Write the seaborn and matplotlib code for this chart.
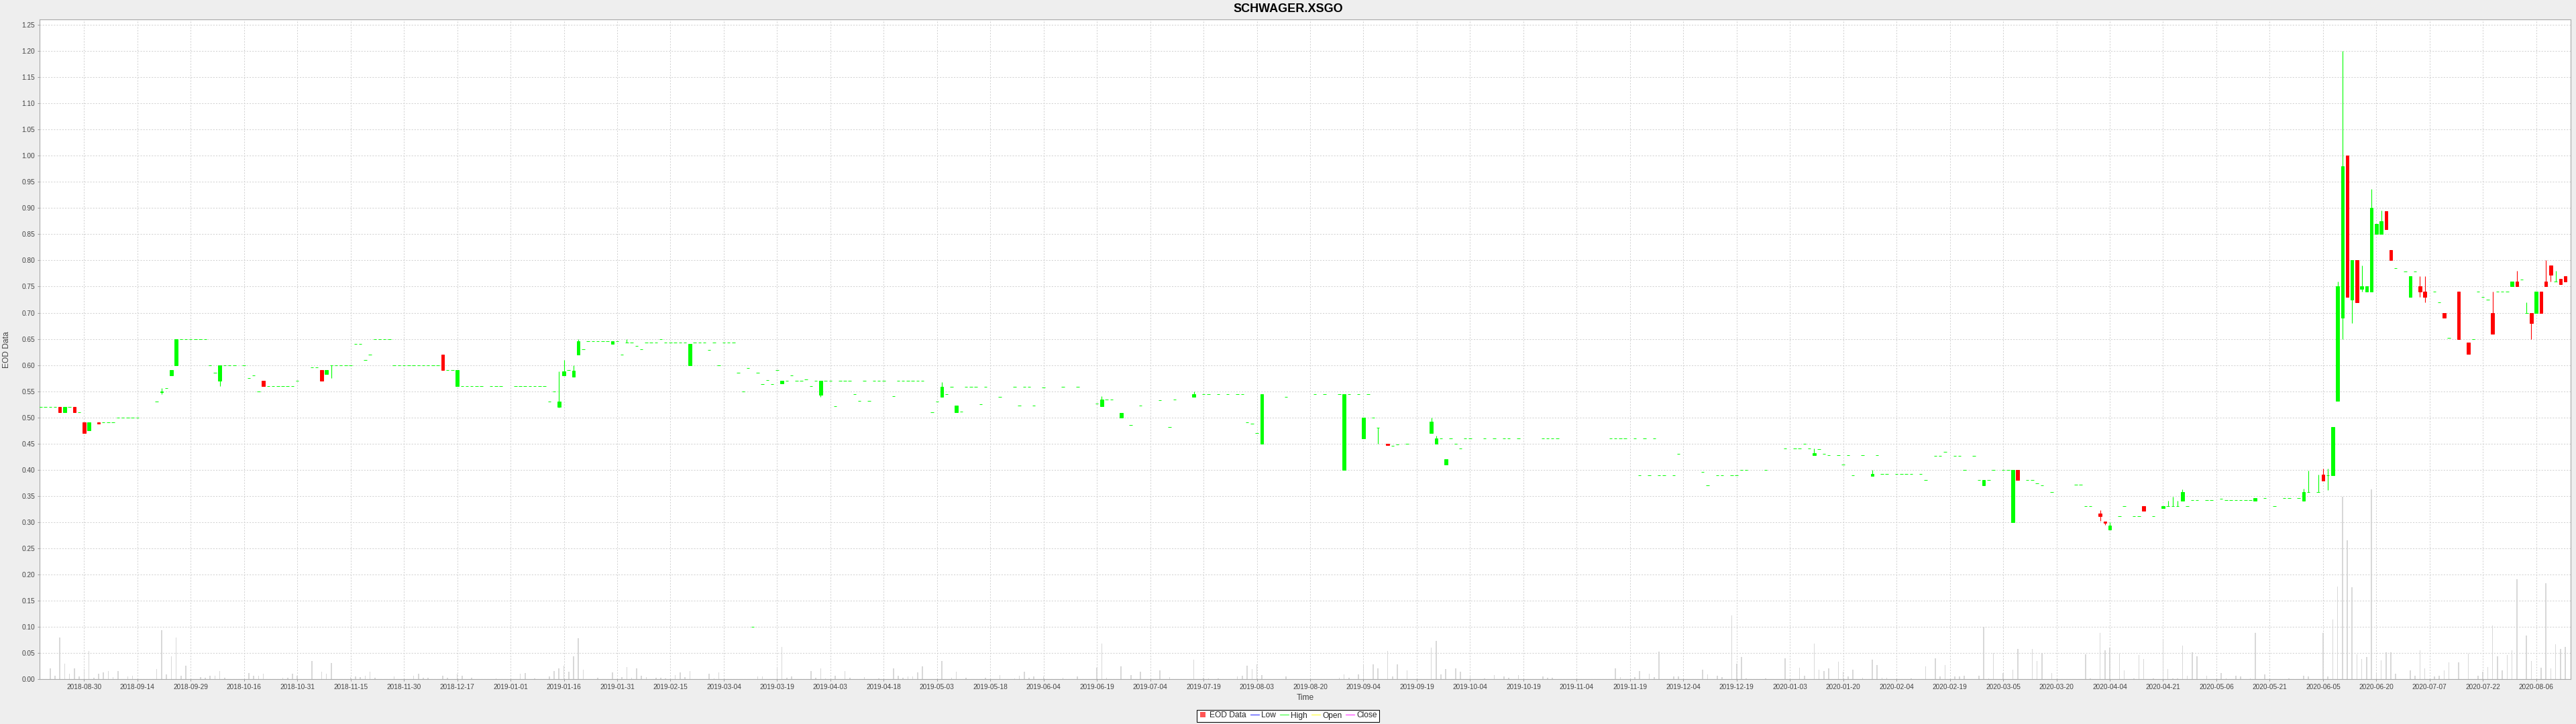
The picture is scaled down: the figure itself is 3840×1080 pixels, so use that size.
import numpy as np
import matplotlib
matplotlib.use("Agg")
import matplotlib.pyplot as plt
from matplotlib.lines import Line2D
import seaborn as sns

# ---------------------------------------------------------------- data
TITLE = "SCHWAGER.XSGO"
BASE_DAY = "2018-08-30"      # first labelled session on the Mon-Fri timeline
TICK_STEP = 11               # sessions between date ticks

dates = [
    "2018-08-17","2018-08-20","2018-08-21","2018-08-22","2018-08-23","2018-08-24","2018-08-27","2018-08-28","2018-08-29","2018-08-30",
    "2018-08-31","2018-09-04","2018-09-05","2018-09-06","2018-09-07","2018-09-10","2018-09-11","2018-09-12","2018-09-13","2018-09-14",
    "2018-09-20","2018-09-21","2018-09-24","2018-09-25","2018-09-26","2018-09-27","2018-09-28","2018-10-01","2018-10-02","2018-10-03",
    "2018-10-04","2018-10-05","2018-10-08","2018-10-09","2018-10-10","2018-10-11","2018-10-12","2018-10-16","2018-10-17","2018-10-18",
    "2018-10-19","2018-10-22","2018-10-23","2018-10-24","2018-10-25","2018-10-26","2018-10-29","2018-10-30","2018-10-31","2018-11-05",
    "2018-11-06","2018-11-07","2018-11-08","2018-11-09","2018-11-12","2018-11-13","2018-11-14","2018-11-15","2018-11-16","2018-11-19",
    "2018-11-20","2018-11-21","2018-11-22","2018-11-23","2018-11-26","2018-11-27","2018-11-28","2018-11-29","2018-11-30","2018-12-03",
    "2018-12-04","2018-12-05","2018-12-06","2018-12-07","2018-12-10","2018-12-11","2018-12-12","2018-12-13","2018-12-14","2018-12-17",
    "2018-12-18","2018-12-19","2018-12-20","2018-12-21","2018-12-24","2018-12-26","2018-12-27","2018-12-28","2019-01-02","2019-01-03",
    "2019-01-04","2019-01-07","2019-01-08","2019-01-09","2019-01-10","2019-01-11","2019-01-14","2019-01-15","2019-01-16","2019-01-17",
    "2019-01-18","2019-01-21","2019-01-22","2019-01-23","2019-01-24","2019-01-25","2019-01-28","2019-01-29","2019-01-30","2019-01-31",
    "2019-02-01","2019-02-04","2019-02-05","2019-02-06","2019-02-07","2019-02-08","2019-02-11","2019-02-12","2019-02-13","2019-02-14",
    "2019-02-15","2019-02-18","2019-02-19","2019-02-20","2019-02-21","2019-02-22","2019-02-25","2019-02-26","2019-02-27","2019-02-28",
    "2019-03-01","2019-03-04","2019-03-05","2019-03-06","2019-03-07","2019-03-08","2019-03-11","2019-03-12","2019-03-13","2019-03-14",
    "2019-03-15","2019-03-18","2019-03-19","2019-03-20","2019-03-21","2019-03-22","2019-03-25","2019-03-26","2019-03-27","2019-03-28",
    "2019-03-29","2019-04-01","2019-04-02","2019-04-03","2019-04-04","2019-04-05","2019-04-08","2019-04-09","2019-04-10","2019-04-11",
    "2019-04-12","2019-04-15","2019-04-16","2019-04-17","2019-04-18","2019-04-22","2019-04-23","2019-04-24","2019-04-25","2019-04-26",
    "2019-04-29","2019-04-30","2019-05-02","2019-05-03","2019-05-06","2019-05-07","2019-05-08","2019-05-09","2019-05-10","2019-05-13",
    "2019-05-14","2019-05-15","2019-05-16","2019-05-17","2019-05-22","2019-05-27","2019-05-28","2019-05-29","2019-05-30","2019-05-31",
    "2019-06-04","2019-06-10","2019-06-13","2019-06-19","2019-06-20","2019-06-21","2019-06-24","2019-06-26","2019-06-28","2019-07-02",
    "2019-07-08","2019-07-10","2019-07-11","2019-07-17","2019-07-19","2019-07-22","2019-07-24","2019-07-26","2019-07-30","2019-07-31",
    "2019-08-01","2019-08-02","2019-08-05","2019-08-06","2019-08-13","2019-08-21","2019-08-23","2019-08-28","2019-08-29","2019-08-30",
    "2019-09-03","2019-09-04","2019-09-05","2019-09-06","2019-09-09","2019-09-11","2019-09-12","2019-09-13","2019-09-17","2019-09-24",
    "2019-09-25","2019-09-26","2019-09-27","2019-09-30","2019-10-01","2019-10-02","2019-10-03","2019-10-04","2019-10-09","2019-10-11",
    "2019-10-15","2019-10-16","2019-10-18","2019-10-25","2019-10-28","2019-10-29","2019-10-30","2019-11-14","2019-11-15","2019-11-18",
    "2019-11-19","2019-11-21","2019-11-22","2019-11-25","2019-11-26","2019-11-27","2019-11-28","2019-11-29","2019-12-03","2019-12-04",
    "2019-12-11","2019-12-12","2019-12-16","2019-12-17","2019-12-19","2019-12-20","2019-12-23","2019-12-24","2019-12-30","2020-01-03",
    "2020-01-07","2020-01-08","2020-01-09","2020-01-10","2020-01-13","2020-01-14","2020-01-15","2020-01-16","2020-01-20","2020-01-21",
    "2020-01-22","2020-01-23","2020-01-27","2020-01-29","2020-01-30","2020-01-31","2020-02-03","2020-02-05","2020-02-06","2020-02-07",
    "2020-02-10","2020-02-12","2020-02-13","2020-02-17","2020-02-18","2020-02-19","2020-02-21","2020-02-24","2020-02-25","2020-02-27",
    "2020-02-28","2020-03-02","2020-03-03","2020-03-04","2020-03-06","2020-03-09","2020-03-10","2020-03-11","2020-03-13","2020-03-16",
    "2020-03-17","2020-03-18","2020-03-20","2020-03-27","2020-03-30","2020-03-31","2020-04-01","2020-04-03","2020-04-06","2020-04-07",
    "2020-04-09","2020-04-10","2020-04-14","2020-04-15","2020-04-16","2020-04-20","2020-04-22","2020-04-23","2020-04-24","2020-04-27",
    "2020-04-28","2020-04-29","2020-04-30","2020-05-01","2020-05-05","2020-05-06","2020-05-08","2020-05-11","2020-05-12","2020-05-13",
    "2020-05-14","2020-05-15","2020-05-18","2020-05-19","2020-05-21","2020-05-25","2020-05-27","2020-05-28","2020-06-01","2020-06-02",
    "2020-06-03","2020-06-05","2020-06-08","2020-06-09","2020-06-10","2020-06-11","2020-06-12","2020-06-15","2020-06-16","2020-06-17",
    "2020-06-18","2020-06-19","2020-06-22","2020-06-23","2020-06-24","2020-06-25","2020-06-26","2020-06-29","2020-07-01","2020-07-02",
    "2020-07-03","2020-07-06","2020-07-07","2020-07-09","2020-07-10","2020-07-13","2020-07-14","2020-07-16","2020-07-20","2020-07-21",
    "2020-07-22","2020-07-23","2020-07-24","2020-07-27","2020-07-28","2020-07-29","2020-07-30","2020-07-31","2020-08-03","2020-08-04",
    "2020-08-05","2020-08-06","2020-08-07","2020-08-10","2020-08-11","2020-08-12","2020-08-13","2020-08-14","2020-08-17",
]

opens = [
    .52,.52,.52,.52,.52,.51,.52,.52,.51,.49,
    .475,.491,.49,.49,.49,.50,.50,.50,.50,.50,
    .53,.548,.556,.58,.60,.65,.65,.65,.65,.65,
    .65,.60,.586,.57,.60,.60,.60,.60,.575,.58,
    .55,.57,.56,.56,.56,.56,.56,.56,.57,.595,
    .595,.59,.583,.60,.60,.60,.60,.60,.64,.64,
    .61,.62,.65,.65,.65,.65,.60,.60,.60,.60,
    .60,.60,.60,.60,.60,.60,.62,.59,.59,.56,
    .56,.56,.56,.56,.56,.56,.56,.56,.56,.56,
    .56,.56,.56,.56,.56,.53,.55,.52,.58,.59,
    .578,.62,.63,.645,.645,.645,.645,.645,.64,.645,
    .62,.643,.643,.637,.63,.643,.643,.643,.649,.643,
    .643,.643,.643,.643,.60,.643,.643,.643,.629,.643,
    .60,.643,.643,.643,.585,.55,.594,.10,.585,.563,
    .571,.563,.59,.565,.57,.58,.57,.57,.573,.56,
    .57,.543,.57,.57,.521,.57,.57,.57,.545,.531,
    .57,.531,.57,.57,.57,.54,.57,.57,.57,.57,
    .57,.57,.51,.53,.539,.545,.558,.51,.511,.558,
    .558,.558,.525,.558,.539,.558,.523,.558,.558,.523,
    .557,.558,.558,.527,.521,.534,.534,.50,.486,.523,
    .533,.481,.534,.539,.544,.544,.544,.544,.544,.544,
    .49,.488,.47,.45,.539,.544,.544,.544,.40,.544,
    .544,.46,.544,.50,.48,.45,.446,.448,.449,.47,
    .45,.46,.41,.46,.45,.44,.46,.46,.46,.46,
    .46,.46,.46,.46,.46,.46,.46,.46,.46,.46,
    .46,.46,.39,.46,.39,.46,.39,.39,.39,.43,
    .396,.37,.39,.39,.39,.39,.40,.40,.40,.44,
    .44,.44,.45,.44,.428,.439,.431,.428,.428,.41,
    .428,.39,.428,.388,.428,.392,.392,.392,.392,.392,
    .392,.392,.38,.427,.427,.434,.427,.427,.40,.427,
    .38,.37,.38,.40,.40,.40,.30,.40,.38,.38,
    .374,.37,.358,.371,.371,.331,.331,.317,.301,.286,
    .311,.331,.311,.311,.331,.311,.326,.331,.331,.331,
    .341,.331,.342,.342,.342,.342,.345,.342,.342,.342,
    .342,.342,.342,.341,.346,.331,.346,.346,.346,.341,
    .357,.357,.391,.39,.39,.531,.69,1.00,.725,.80,
    .745,.74,.74,.85,.85,.894,.82,.785,.779,.73,
    .779,.75,.74,.74,.72,.70,.652,.74,.643,.65,
    .74,.73,.725,.70,.74,.74,.74,.75,.76,.764,
    .70,.70,.70,.74,.76,.79,.76,.765,.77,
]

highs = [
    .52,.52,.52,.52,.52,.52,.52,.52,.51,.49,
    .49,.491,.49,.49,.49,.50,.50,.50,.50,.50,
    .53,.556,.556,.59,.65,.65,.65,.65,.65,.65,
    .65,.60,.586,.60,.60,.60,.60,.60,.575,.58,
    .55,.57,.56,.56,.56,.56,.56,.56,.57,.595,
    .595,.59,.59,.60,.60,.60,.60,.60,.64,.64,
    .61,.62,.65,.65,.65,.65,.60,.60,.60,.60,
    .60,.60,.60,.60,.60,.60,.62,.59,.59,.59,
    .56,.56,.56,.56,.56,.56,.56,.56,.56,.56,
    .56,.56,.56,.56,.56,.53,.55,.588,.61,.59,
    .60,.65,.63,.645,.645,.645,.645,.645,.645,.645,
    .62,.649,.643,.637,.63,.643,.643,.643,.649,.643,
    .643,.643,.643,.643,.64,.643,.643,.643,.629,.643,
    .60,.643,.643,.643,.585,.55,.594,.10,.585,.563,
    .571,.563,.59,.57,.57,.58,.57,.57,.573,.56,
    .57,.57,.57,.57,.521,.57,.57,.57,.545,.531,
    .57,.531,.57,.57,.57,.54,.57,.57,.57,.57,
    .57,.57,.51,.53,.568,.545,.558,.523,.511,.558,
    .558,.558,.525,.558,.539,.558,.523,.558,.558,.523,
    .557,.558,.558,.527,.541,.534,.534,.508,.486,.523,
    .533,.481,.534,.55,.544,.544,.544,.544,.544,.544,
    .49,.488,.47,.544,.539,.544,.544,.544,.544,.544,
    .544,.50,.544,.50,.48,.45,.446,.448,.449,.50,
    .465,.46,.42,.46,.45,.44,.46,.46,.46,.46,
    .46,.46,.46,.46,.46,.46,.46,.46,.46,.46,
    .46,.46,.39,.46,.39,.46,.39,.39,.39,.43,
    .396,.37,.39,.39,.39,.39,.40,.40,.40,.44,
    .44,.44,.45,.44,.44,.439,.431,.428,.428,.41,
    .428,.39,.428,.40,.428,.392,.392,.392,.392,.392,
    .392,.392,.38,.427,.427,.434,.427,.427,.40,.427,
    .38,.38,.38,.40,.40,.40,.40,.40,.38,.38,
    .374,.37,.358,.371,.371,.331,.331,.323,.301,.30,
    .311,.331,.311,.311,.331,.311,.331,.341,.349,.341,
    .362,.331,.342,.342,.342,.342,.345,.342,.342,.342,
    .342,.342,.342,.346,.346,.331,.346,.346,.346,.364,
    .398,.391,.402,.402,.482,.76,1.20,1.00,.80,.80,
    .79,.75,.936,.87,.895,.894,.82,.785,.779,.77,
    .779,.77,.77,.74,.72,.70,.652,.74,.643,.65,
    .74,.73,.725,.74,.74,.74,.74,.76,.78,.764,
    .72,.70,.74,.74,.80,.79,.78,.765,.77,
]

lows = [
    .52,.52,.52,.52,.51,.51,.52,.51,.51,.47,
    .475,.488,.49,.49,.49,.50,.50,.50,.50,.50,
    .53,.545,.556,.58,.60,.65,.65,.65,.65,.65,
    .65,.60,.586,.56,.60,.60,.60,.60,.575,.58,
    .55,.56,.56,.56,.56,.56,.56,.56,.57,.595,
    .595,.57,.583,.575,.60,.60,.60,.60,.64,.64,
    .61,.62,.65,.65,.65,.65,.60,.60,.60,.60,
    .60,.60,.60,.60,.60,.60,.59,.59,.59,.56,
    .56,.56,.56,.56,.56,.56,.56,.56,.56,.56,
    .56,.56,.56,.56,.56,.53,.55,.519,.58,.59,
    .578,.62,.63,.645,.645,.645,.645,.645,.64,.645,
    .62,.643,.643,.637,.63,.643,.643,.643,.649,.643,
    .643,.643,.643,.643,.60,.643,.643,.643,.629,.643,
    .60,.643,.643,.643,.585,.55,.594,.10,.585,.563,
    .571,.563,.59,.565,.57,.58,.57,.57,.573,.56,
    .57,.539,.57,.57,.521,.57,.57,.57,.545,.531,
    .57,.531,.57,.57,.57,.54,.57,.57,.57,.57,
    .57,.57,.51,.53,.539,.545,.558,.51,.511,.558,
    .558,.558,.525,.558,.539,.558,.523,.558,.558,.523,
    .557,.558,.558,.527,.521,.534,.534,.50,.486,.523,
    .533,.481,.534,.539,.544,.544,.544,.544,.544,.544,
    .49,.488,.47,.45,.539,.544,.544,.544,.40,.544,
    .544,.46,.544,.50,.45,.447,.446,.448,.449,.47,
    .45,.46,.41,.46,.45,.44,.46,.46,.46,.46,
    .46,.46,.46,.46,.46,.46,.46,.46,.46,.46,
    .46,.46,.39,.46,.39,.46,.39,.39,.39,.43,
    .396,.37,.39,.39,.39,.39,.40,.40,.40,.44,
    .44,.44,.45,.44,.428,.439,.431,.428,.428,.41,
    .428,.39,.428,.388,.428,.392,.392,.392,.392,.392,
    .392,.392,.38,.427,.427,.434,.427,.427,.40,.427,
    .38,.37,.38,.40,.40,.40,.30,.38,.38,.38,
    .374,.37,.358,.371,.371,.331,.331,.302,.295,.286,
    .311,.331,.311,.311,.321,.311,.326,.331,.331,.331,
    .341,.331,.342,.342,.342,.342,.345,.342,.342,.342,
    .342,.342,.342,.341,.346,.331,.346,.346,.346,.341,
    .357,.357,.379,.361,.39,.531,.65,.73,.68,.72,
    .74,.74,.74,.85,.85,.86,.80,.785,.779,.73,
    .779,.73,.72,.74,.72,.69,.652,.65,.621,.65,
    .74,.73,.725,.66,.74,.74,.74,.75,.75,.764,
    .70,.65,.70,.70,.75,.76,.76,.755,.76,
]

closes = [
    .52,.52,.52,.52,.51,.52,.52,.51,.51,.47,
    .49,.488,.49,.49,.49,.50,.50,.50,.50,.50,
    .53,.55,.556,.59,.65,.65,.65,.65,.65,.65,
    .65,.60,.586,.60,.60,.60,.60,.60,.575,.58,
    .55,.56,.56,.56,.56,.56,.56,.56,.57,.595,
    .595,.57,.59,.60,.60,.60,.60,.60,.64,.64,
    .61,.62,.65,.65,.65,.65,.60,.60,.60,.60,
    .60,.60,.60,.60,.60,.60,.59,.59,.59,.59,
    .56,.56,.56,.56,.56,.56,.56,.56,.56,.56,
    .56,.56,.56,.56,.56,.53,.55,.53,.588,.59,
    .589,.645,.63,.645,.645,.645,.645,.645,.645,.645,
    .62,.643,.643,.637,.63,.643,.643,.643,.649,.643,
    .643,.643,.643,.643,.64,.643,.643,.643,.629,.643,
    .60,.643,.643,.643,.585,.55,.594,.10,.585,.563,
    .571,.563,.59,.57,.57,.58,.57,.57,.573,.56,
    .57,.57,.57,.57,.521,.57,.57,.57,.545,.531,
    .57,.531,.57,.57,.57,.54,.57,.57,.57,.57,
    .57,.57,.51,.53,.558,.545,.558,.523,.511,.558,
    .558,.558,.525,.558,.539,.558,.523,.558,.558,.523,
    .557,.558,.558,.527,.534,.534,.534,.508,.486,.523,
    .533,.481,.534,.544,.544,.544,.544,.544,.544,.544,
    .49,.488,.47,.544,.539,.544,.544,.544,.544,.544,
    .544,.50,.544,.50,.48,.447,.446,.448,.449,.492,
    .46,.46,.42,.46,.45,.44,.46,.46,.46,.46,
    .46,.46,.46,.46,.46,.46,.46,.46,.46,.46,
    .46,.46,.39,.46,.39,.46,.39,.39,.39,.43,
    .396,.37,.39,.39,.39,.39,.40,.40,.40,.44,
    .44,.44,.45,.44,.432,.439,.431,.428,.428,.41,
    .428,.39,.428,.392,.428,.392,.392,.392,.392,.392,
    .392,.392,.38,.427,.427,.434,.427,.427,.40,.427,
    .38,.38,.38,.40,.40,.40,.40,.38,.38,.38,
    .374,.37,.358,.371,.371,.331,.331,.311,.298,.293,
    .311,.331,.311,.311,.321,.311,.331,.331,.331,.331,
    .357,.331,.342,.342,.342,.342,.345,.342,.342,.342,
    .342,.342,.342,.346,.346,.331,.346,.346,.346,.357,
    .357,.357,.379,.39,.482,.75,.98,.73,.80,.72,
    .75,.75,.90,.87,.875,.86,.80,.785,.779,.77,
    .779,.74,.73,.74,.72,.69,.652,.65,.621,.65,
    .74,.73,.725,.66,.74,.74,.74,.76,.75,.764,
    .70,.68,.74,.70,.75,.772,.76,.755,.76,
]

vol_dates = [
    "2018-08-21","2018-08-22","2018-08-23","2018-08-24","2018-08-27","2018-08-28","2018-08-29","2018-08-30","2018-08-31","2018-09-03",
    "2018-09-04","2018-09-05","2018-09-06","2018-09-07","2018-09-10","2018-09-12","2018-09-13","2018-09-20","2018-09-21","2018-09-24",
    "2018-09-25","2018-09-26","2018-09-27","2018-09-28","2018-10-03","2018-10-04","2018-10-05","2018-10-08","2018-10-09","2018-10-10",
    "2018-10-17","2018-10-18","2018-10-19","2018-10-22","2018-10-26","2018-10-29","2018-10-30","2018-10-31","2018-11-05","2018-11-07",
    "2018-11-08","2018-11-09","2018-11-15","2018-11-16","2018-11-19","2018-11-20","2018-11-21","2018-11-22","2018-11-28","2018-12-04",
    "2018-12-05","2018-12-06","2018-12-07","2018-12-12","2018-12-13","2018-12-17","2018-12-18","2018-12-20","2018-12-27","2019-01-03",
    "2019-01-04","2019-01-08","2019-01-11","2019-01-14","2019-01-15","2019-01-16","2019-01-17","2019-01-18","2019-01-21","2019-01-22",
    "2019-01-25","2019-01-30","2019-02-01","2019-02-04","2019-02-05","2019-02-06","2019-02-07","2019-02-08","2019-02-12","2019-02-13",
    "2019-02-14","2019-02-18","2019-02-19","2019-02-20","2019-02-21","2019-02-27","2019-02-28","2019-03-01","2019-03-13","2019-03-14",
    "2019-03-19","2019-03-20","2019-03-21","2019-03-22","2019-03-28","2019-03-29","2019-04-01","2019-04-02","2019-04-04","2019-04-08",
    "2019-04-09","2019-04-12","2019-04-17","2019-04-22","2019-04-23","2019-04-24","2019-04-25","2019-04-26","2019-04-29","2019-04-30",
    "2019-05-06","2019-05-08","2019-05-09","2019-05-13","2019-05-17","2019-05-22","2019-05-27","2019-05-28","2019-05-29","2019-05-30",
    "2019-05-31","2019-06-04","2019-06-10","2019-06-13","2019-06-19","2019-06-20","2019-06-21","2019-06-26","2019-06-28","2019-07-02",
    "2019-07-08","2019-07-10","2019-07-17","2019-07-19","2019-07-22","2019-07-24","2019-07-30","2019-07-31","2019-08-01","2019-08-02",
    "2019-08-05","2019-08-06","2019-08-13","2019-08-28","2019-08-29","2019-08-30","2019-09-03","2019-09-04","2019-09-06","2019-09-09",
    "2019-09-11","2019-09-12","2019-09-13","2019-09-17","2019-09-24","2019-09-25","2019-09-26","2019-09-27","2019-10-01","2019-10-02",
    "2019-10-04","2019-10-09","2019-10-11","2019-10-15","2019-10-16","2019-10-18","2019-10-25","2019-10-28","2019-10-29","2019-11-15",
    "2019-11-18","2019-11-21","2019-11-22","2019-11-26","2019-11-27","2019-11-28","2019-12-03","2019-12-04","2019-12-11","2019-12-12",
    "2019-12-16","2019-12-17","2019-12-19","2019-12-20","2019-12-23","2019-12-24","2019-12-30","2020-01-03","2020-01-08","2020-01-09",
    "2020-01-13","2020-01-14","2020-01-15","2020-01-16","2020-01-20","2020-01-21","2020-01-22","2020-01-23","2020-01-27","2020-01-29",
    "2020-01-30","2020-01-31","2020-02-03","2020-02-10","2020-02-13","2020-02-17","2020-02-18","2020-02-19","2020-02-21","2020-02-24",
    "2020-02-25","2020-02-28","2020-03-02","2020-03-03","2020-03-04","2020-03-06","2020-03-10","2020-03-11","2020-03-16","2020-03-17",
    "2020-03-18","2020-03-20","2020-03-31","2020-04-01","2020-04-03","2020-04-06","2020-04-07","2020-04-09","2020-04-10","2020-04-14",
    "2020-04-15","2020-04-16","2020-04-20","2020-04-22","2020-04-23","2020-04-24","2020-04-27","2020-04-28","2020-04-29","2020-04-30",
    "2020-05-01","2020-05-05","2020-05-08","2020-05-11","2020-05-13","2020-05-14","2020-05-18","2020-05-19","2020-05-21","2020-05-28",
    "2020-06-02","2020-06-03","2020-06-08","2020-06-09","2020-06-10","2020-06-11","2020-06-12","2020-06-15","2020-06-16","2020-06-17",
    "2020-06-18","2020-06-19","2020-06-22","2020-06-23","2020-06-24","2020-06-25","2020-06-26","2020-06-29","2020-07-02","2020-07-03",
    "2020-07-06","2020-07-07","2020-07-09","2020-07-10","2020-07-13","2020-07-14","2020-07-16","2020-07-20","2020-07-22","2020-07-23",
    "2020-07-24","2020-07-27","2020-07-28","2020-07-29","2020-07-30","2020-07-31","2020-08-03","2020-08-05","2020-08-06","2020-08-10",
    "2020-08-11","2020-08-12","2020-08-13","2020-08-14","2020-08-17",
]

volumes = [
    20000,7000,80000,29000,10000,21000,5500,19000,54000,3000,
    10000,13000,16000,4000,15000,5500,7000,19500,94000,8500,
    44000,80000,7000,25000,4000,2000,6500,6500,15000,3000,
    11000,7000,6500,10000,2000,3000,10000,7000,34000,14500,
    10000,31000,4000,5000,4000,7000,14500,3000,5500,7000,
    10500,2000,2000,7000,2000,10000,6000,2500,1000,10500,
    11000,1000,5500,15500,20500,25000,14500,44000,78000,18000,
    2000,13000,4000,23000,2500,20500,6700,4000,2500,2000,
    1700,8000,13000,4000,15000,10500,1000,13000,5500,5500,
    20500,62000,2000,5500,15500,2000,20000,1700,6700,15500,
    2500,4000,1000,20000,6700,2500,5500,5500,13000,24500,
    35000,2500,14500,2500,2500,8000,1000,6700,14000,2500,
    5500,5000,2500,5500,22000,68000,2500,24500,8000,14500,
    17000,4000,37000,2500,1700,1700,5500,6700,26000,19000,
    28500,8000,5500,3000,9000,3000,9500,27500,28500,20500,
    54000,5500,28000,17000,60000,72500,9000,19000,20500,14500,
    5000,1000,8000,5500,2500,7500,5000,3000,3000,20000,
    4000,4000,15000,10000,4000,53000,4500,5500,17500,9000,
    6000,4000,122000,30000,42000,1000,1000,40000,22000,6000,
    68000,17500,15000,20000,33000,14000,5500,18000,3000,37000,
    27500,3000,3000,1000,24500,40000,4500,27000,4500,4500,
    7000,6000,100000,1000,50000,12000,18000,57000,57000,35000,
    50000,11500,48000,1500,88000,55000,60000,49000,17000,1500,
    46000,38000,1500,76000,19000,1500,1500,64000,6000,51000,
    43000,7000,11000,1500,7000,5000,1500,88000,8500,1500,
    6000,5000,89000,5000,114000,177000,349000,265000,176000,48000,
    38000,42000,363000,11000,36000,51000,51000,10000,17000,6000,
    55000,20000,5000,6000,17000,32000,32000,49000,7000,14000,
    23000,102000,44000,17000,46000,55000,191000,83000,35000,22000,
    183000,20000,67000,58000,62000,
]

tick_labels = [
    "2018-08-30","2018-09-14","2018-09-29","2018-10-16","2018-10-31","2018-11-15","2018-11-30","2018-12-17",
    "2019-01-01","2019-01-16","2019-01-31","2019-02-15","2019-03-04","2019-03-19","2019-04-03","2019-04-18",
    "2019-05-03","2019-05-18","2019-06-04","2019-06-19","2019-07-04","2019-07-19","2019-08-03","2019-08-20",
    "2019-09-04","2019-09-19","2019-10-04","2019-10-19","2019-11-04","2019-11-19","2019-12-04","2019-12-19",
    "2020-01-03","2020-01-20","2020-02-04","2020-02-19","2020-03-05","2020-03-20","2020-04-04","2020-04-21",
    "2020-05-06","2020-05-21","2020-06-05","2020-06-20","2020-07-07","2020-07-22","2020-08-06",
]

legend_items = ["EOD Data", "Low", "High", "Open", "Close"]

# ---------------------------------------------------------------- style
sns.set_style("white")
plt.rcParams["font.family"] = ["Liberation Sans", "DejaVu Sans"]

UP, DOWN = "#00FF00", "#FF0000"
VOL_COLOR = "#D8D8D8"
GRID_COLOR = "#D2D2D2"
TEXT_COLOR = "#444444"
LEGEND_COLORS = ["#FF5555", "#5555FF", "#55FF55", "#FFFF55", "#FF55FF"]

W, H = 3840, 1080
L, R, B, T = 59.3, 3832.0, 1013.0, 29.3   # plot frame in pixels

fig = plt.figure(figsize=(W / 100, H / 100), dpi=100, facecolor="#EEEEEE")
axv = fig.add_axes([L / W, 1 - B / H, (R - L) / W, (B - T) / H])
ax = axv.twinx()
ax.xaxis.set_visible(True)
ax.yaxis.tick_left()
ax.yaxis.set_label_position("left")
axv.set_facecolor("white")
ax.patch.set_visible(False)

# ---------------------------------------------------------------- positions on Mon-Fri timeline
base = np.datetime64(BASE_DAY)
x = np.busday_count(base, np.array(dates, dtype="datetime64[D]"))
xv = np.busday_count(base, np.array(vol_dates, dtype="datetime64[D]"))
o, h, lo, c = (np.asarray(a, dtype=float) for a in (opens, highs, lows, closes))
vol = np.asarray(volumes, dtype=float)

# volume bars (background)
axv.bar(xv, vol, width=0.22, color=VOL_COLOR, linewidth=0, zorder=1)
axv.set_ylim(0, 1.26e6)
axv.set_yticks([])
axv.tick_params(axis="x", bottom=False, labelbottom=False)
for s in axv.spines.values():
    s.set_visible(False)

# candles
col = np.where(c >= o, UP, DOWN)
ax.vlines(x, lo, h, colors=col, linewidth=0.8, zorder=3)
ax.bar(x, np.abs(c - o), bottom=np.minimum(o, c), width=0.62,
       color=col, edgecolor=col, linewidth=0.7, zorder=4)

ax.set_xlim(-9.14, 513.1)
ax.set_ylim(0, 1.26)

tick_pos = np.arange(len(tick_labels)) * TICK_STEP
ax.set_xticks(tick_pos)
ax.set_xticklabels(tick_labels)
yt = np.round(np.arange(0, 1.2501, 0.05), 2)
ax.set_yticks(yt)
ax.set_yticklabels([f"{v:.2f}" for v in yt])

ax.tick_params(axis="both", length=2, width=0.7, color="#999999",
               labelsize=7.3, labelcolor=TEXT_COLOR, pad=3.3)
ax.tick_params(axis="x", bottom=True, labelbottom=True, top=False, labeltop=False)
ax.tick_params(axis="y", left=True, labelleft=True, right=False, labelright=False)

ax.grid(True, axis="both", color=GRID_COLOR, linestyle=(0, (2, 2)), linewidth=0.75)
ax.set_axisbelow(True)
for s in ax.spines.values():
    s.set_color("#A8A8A8")
    s.set_linewidth(0.8)

ax.set_xlabel("Time", fontsize=8.64, color=TEXT_COLOR)
ax.xaxis.set_label_coords(0.5, (B - 1041) / (B - T))
ax.xaxis.label.set_verticalalignment("center")
ax.set_ylabel("EOD Data", fontsize=8.64, color=TEXT_COLOR)
ax.yaxis.set_label_coords((10 - L) / (R - L), 0.5)
ax.yaxis.label.set_verticalalignment("center")

fig.text(0.5, 1 - 14 / H, TITLE, ha="center", va="center",
         fontsize=12.96, fontweight="bold", color="black")

handles = [Line2D([], [], marker="s", linestyle="none", markersize=5.5,
                  markerfacecolor=LEGEND_COLORS[0], markeredgewidth=0)]
handles += [Line2D([], [], color=cc, linewidth=1.0) for cc in LEGEND_COLORS[1:]]
leg = fig.legend(handles, legend_items, loc="center", bbox_to_anchor=(0.5, 12.5 / H),
                 ncol=5, frameon=True, fontsize=8.64, handlelength=1.1,
                 handletextpad=0.3, columnspacing=0.45, borderpad=0.25,
                 borderaxespad=0, fancybox=False, edgecolor="black", framealpha=1)
leg.get_frame().set_linewidth(0.75)
leg.get_frame().set_facecolor("white")

fig.savefig("out.png", dpi=100, facecolor=fig.get_facecolor())
